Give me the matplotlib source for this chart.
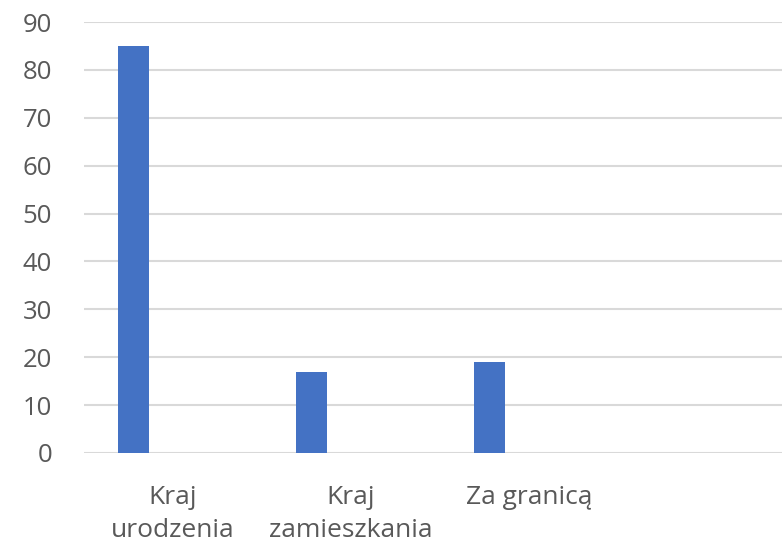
import matplotlib
matplotlib.use("Agg")
import matplotlib.pyplot as plt
import numpy as np

categories = ["Kraj\nurodzenia", "Kraj\nzamieszkania", "Za granicą", ""]
values = [85, 17, 19, 0]
y_ticks = [0, 10, 20, 30, 40, 50, 60, 70, 80, 90]

plt.rcParams['font.family'] = ['Open Sans', 'DejaVu Sans']
text_color = "#595959"
grid_color = "#d9d9d9"
bar_color = "#4472C4"

fig = plt.figure(figsize=(7.82, 5.45), dpi=100)
W, H = 782, 545
left, right, bottom, top = 84, 782, 453, 22
ax = fig.add_axes([left / W, 1 - bottom / H, (right - left) / W, (bottom - top) / H])

x = np.arange(len(categories))
ax.bar(x[:3] - 0.22, values[:3], width=0.175, color=bar_color, zorder=3)

ax.set_ylim(0, 90)
ax.set_xlim(-0.5, -0.5 + (right - left) / 178)
ax.set_yticks(y_ticks)
ax.set_yticklabels([str(v) for v in y_ticks], fontsize=18.5, color=text_color)
ax.set_xticks(x)
ax.set_xticklabels(categories, fontsize=19, color=text_color, linespacing=1.4)
ax.tick_params(axis='both', length=0)
ax.tick_params(axis='y', pad=23)
ax.tick_params(axis='x', pad=23)
ax.grid(axis='y', color=grid_color, linewidth=1.5, zorder=0)
for s in ax.spines.values():
    s.set_visible(False)

fig.savefig("out.png", dpi=100)
